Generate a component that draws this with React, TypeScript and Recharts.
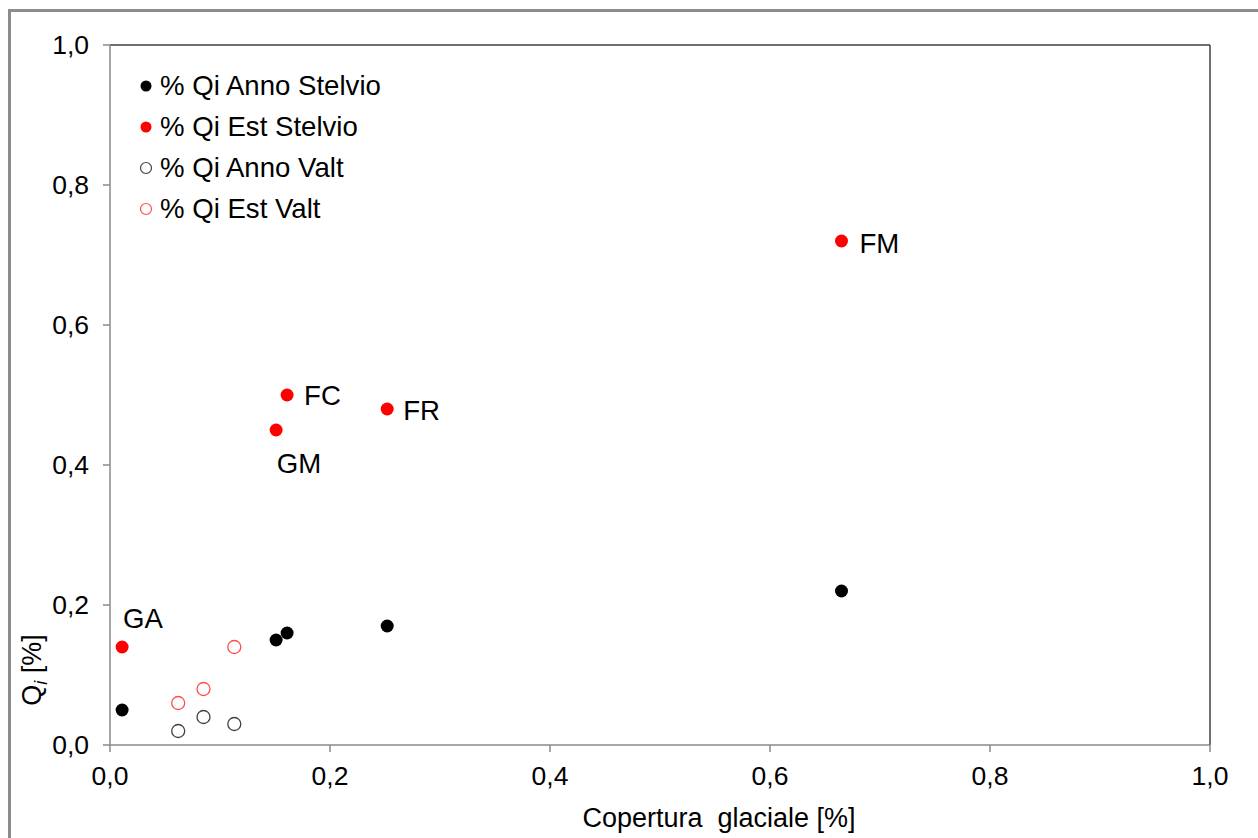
import React from "react";
import {
  ScatterChart,
  Scatter,
  XAxis,
  YAxis,
  ReferenceLine,
  LabelList,
} from "recharts";

// ---- data ----
const stelvioCover = [0.011, 0.151, 0.161, 0.252, 0.665];
const qiAnnoStelvio = [0.05, 0.15, 0.16, 0.17, 0.22];
const qiEstStelvio = [0.14, 0.45, 0.5, 0.48, 0.72];
const stelvioLabels = ["GA", "GM", "FC", "FR", "FM"];

const valtCover = [0.062, 0.085, 0.113];
const qiAnnoValt = [0.02, 0.04, 0.03];
const qiEstValt = [0.06, 0.08, 0.14];

const axisTicks = [0, 0.2, 0.4, 0.6, 0.8, 1.0];

const seriesNames = [
  "% Qi Anno Stelvio",
  "% Qi Est Stelvio",
  "% Qi Anno Valt",
  "% Qi Est Valt",
];

// ---- derived tables ----
const annoStelvioData = stelvioCover.map((x, i) => ({ x, y: qiAnnoStelvio[i] }));
const estStelvioData = stelvioCover.map((x, i) => ({
  x,
  y: qiEstStelvio[i],
  label: stelvioLabels[i],
}));
const annoValtData = valtCover.map((x, i) => ({ x, y: qiAnnoValt[i] }));
const estValtData = valtCover.map((x, i) => ({ x, y: qiEstValt[i] }));

// ---- styles ----
const FONT = '"Liberation Sans", Arial, sans-serif';
const FS = 26.5;
const FS_LEGEND = 27.6;
const FS_TITLE = 27;
const R = 6.5;

const seriesStyles = [
  { fill: "#000000", stroke: "none" },
  { fill: "#ff0000", stroke: "none" },
  { fill: "#ffffff", stroke: "#404040" },
  { fill: "#ffffff", stroke: "#ff4d4d" },
];

const labelPlacement: Record<string, { dx: number; dy: number; anchor: string }> = {
  GA: { dx: 1, dy: -29, anchor: "start" },
  GM: { dx: 23, dy: 33, anchor: "middle" },
  FC: { dx: 17, dy: 0, anchor: "start" },
  FR: { dx: 16, dy: 1, anchor: "start" },
  FM: { dx: 18, dy: 2, anchor: "start" },
};

const fmt = (v: number) => v.toFixed(1).replace(".", ",");

const makeShape = (idx: number) => (props: any) => {
  const s = seriesStyles[idx];
  return (
    <circle
      cx={props.cx}
      cy={props.cy}
      r={R}
      fill={s.fill}
      stroke={s.stroke}
      strokeWidth={1.3}
    />
  );
};

const renderPointLabel = (props: any) => {
  const { x, y, width, height, value } = props;
  const cx = x + (width || 0) / 2;
  const cy = y + (height || 0) / 2;
  const p = labelPlacement[value] || { dx: 15, dy: 0, anchor: "start" };
  return (
    <text
      x={cx + p.dx}
      y={cy + p.dy}
      textAnchor={p.anchor as any}
      dominantBaseline="central"
      fontSize={FS_LEGEND}
      fontFamily={FONT}
      fill="#000"
    >
      {value}
    </text>
  );
};

const LegendBox = () => (
  <div style={{ position: "absolute", left: 138, top: 71, width: 320, height: 180 }}>
    {seriesNames.map((name, i) => {
      const s = seriesStyles[i];
      return (
        <div
          key={name}
          style={{
            position: "absolute",
            left: 0,
            top: i * 41,
            height: 30,
            display: "flex",
            alignItems: "center",
            whiteSpace: "nowrap",
          }}
        >
          <svg width={16} height={16} style={{ marginRight: 6 }}>
            <circle
              cx={8}
              cy={8}
              r={5.5}
              fill={s.fill}
              stroke={s.stroke}
              strokeWidth={1.2}
            />
          </svg>
          <span
            style={{
              fontFamily: FONT,
              fontSize: FS_LEGEND,
              color: "#000",
              lineHeight: "30px",
            }}
          >
            {name}
          </span>
        </div>
      );
    })}
  </div>
);

const renderYLabel = () => (
  <text
    transform="translate(41, 670) rotate(-90)"
    textAnchor="middle"
    fontSize={FS_TITLE}
    fontFamily={FONT}
    fill="#000"
  >
    Q<tspan fontStyle="italic" fontSize={18} dy={6}>i</tspan>
    <tspan dy={-6}>{"\u00A0[%]"}</tspan>
  </text>
);

const renderXLabel = () => (
  <text
    x={719}
    y={827}
    textAnchor="middle"
    fontSize={FS_TITLE}
    fontFamily={FONT}
    fill="#000"
  >
    {"Copertura\u00A0 glaciale [%]"}
  </text>
);

export default function App() {
  return (
    <div
      style={{
        position: "absolute",
        left: 0,
        top: 0,
        width: 1258,
        height: 838,
        overflow: "hidden",
        background: "#ffffff",
        fontFamily: FONT,
      }}
    >
      <div
        style={{
          position: "absolute",
          left: 8,
          top: 9,
          width: 1400,
          height: 1000,
          border: "3px solid #8c8c8c",
        }}
      />
      <div style={{ position: "absolute", left: 0, top: 0 }}>
        <ScatterChart
          width={1258}
          height={838}
          margin={{ top: 45, right: 48, bottom: 53, left: 10 }}
        >
          <XAxis
            type="number"
            dataKey="x"
            domain={[0, 1]}
            ticks={axisTicks}
            tickFormatter={fmt}
            allowDataOverflow
            height={40}
            tickSize={7}
            tickMargin={14}
            axisLine={{ stroke: "#8a8a8a", strokeWidth: 1.5 }}
            tickLine={{ stroke: "#8a8a8a", strokeWidth: 1.5 }}
            tick={{ fill: "#000", fontSize: FS, fontFamily: FONT }}
            label={{ content: renderXLabel }}
          />
          <YAxis
            type="number"
            dataKey="y"
            domain={[0, 1]}
            ticks={axisTicks}
            tickFormatter={fmt}
            allowDataOverflow
            width={100}
            tickSize={7}
            tickMargin={14}
            axisLine={{ stroke: "#8a8a8a", strokeWidth: 1.5 }}
            tickLine={{ stroke: "#8a8a8a", strokeWidth: 1.5 }}
            tick={{ fill: "#000", fontSize: FS, fontFamily: FONT }}
            label={{ content: renderYLabel }}
          />
          <ReferenceLine y={1} stroke="#404040" strokeWidth={1.5} />
          <ReferenceLine x={1} stroke="#404040" strokeWidth={1.5} />
          <Scatter
            name={seriesNames[0]}
            data={annoStelvioData}
            shape={makeShape(0)}
            isAnimationActive={false}
          />
          <Scatter
            name={seriesNames[1]}
            data={estStelvioData}
            shape={makeShape(1)}
            isAnimationActive={false}
          >
            <LabelList dataKey="label" content={renderPointLabel} />
          </Scatter>
          <Scatter
            name={seriesNames[2]}
            data={annoValtData}
            shape={makeShape(2)}
            isAnimationActive={false}
          />
          <Scatter
            name={seriesNames[3]}
            data={estValtData}
            shape={makeShape(3)}
            isAnimationActive={false}
          />
        </ScatterChart>
      </div>
      <LegendBox />
    </div>
  );
}
